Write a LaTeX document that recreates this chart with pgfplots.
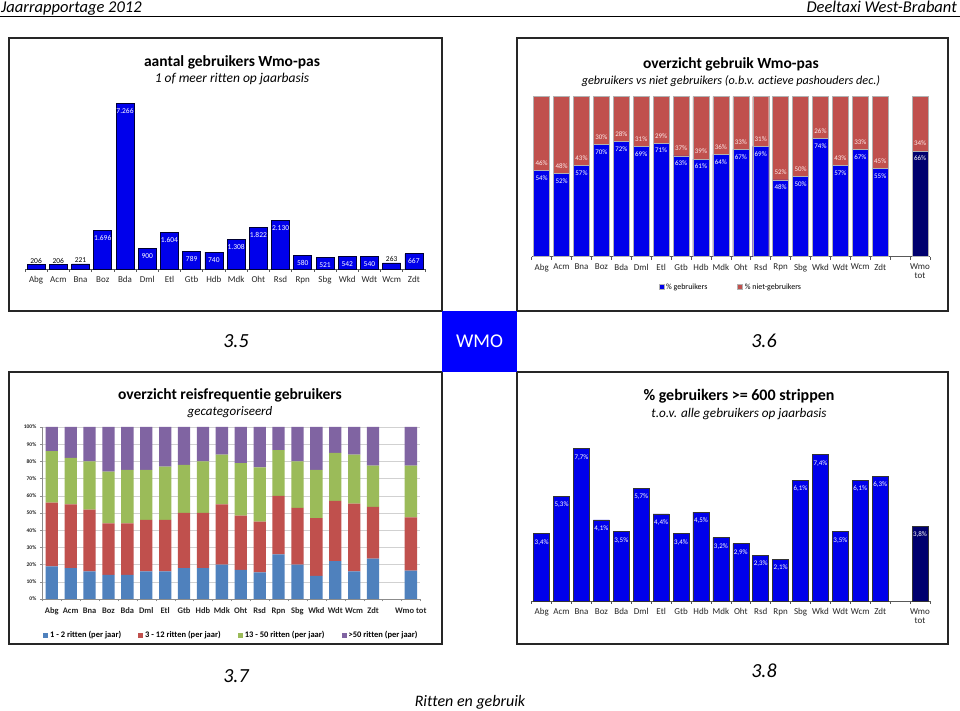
\documentclass[border=0pt]{standalone}
\usepackage{pgfplots}
\pgfplotsset{compat=1.18}
\usepackage{pgfplotstable}
\usepackage{fontspec}
\setmainfont{Carlito}[Ligatures=NoCommon]

\definecolor{barblue}{RGB}{0,0,235}
\definecolor{barnavy}{RGB}{0,0,110}
\definecolor{xlred}{RGB}{192,80,77}
\definecolor{xlblue}{RGB}{79,129,189}
\definecolor{xlgreen}{RGB}{155,187,89}
\definecolor{xlpurple}{RGB}{128,100,162}
\definecolor{wmoblue}{RGB}{0,0,255}

\newcommand\fs[1]{\fontsize{#1}{#1}\selectfont}

\pgfplotstableread{
x v
0 206
1 206
2 221
3 1696
4 7266
5 900
6 1604
7 789
8 740
9 1308
10 1822
11 2130
12 580
13 521
14 542
15 540
16 263
17 667
}\tA

\pgfplotstableread{
x g n
0 54 46
1 52 48
2 57 43
3 70 30
4 72 28
5 69 31
6 71 29
7 63 37
8 61 39
9 64 36
10 67 33
11 69 31
12 48 52
13 50 50
14 74 26
15 57 43
16 67 33
17 55 45
19 66 34
}\tB

\pgfplotstableread{
x a b c d
0 19 37 30 14
1 18 37 27 18
2 16 36 28 20
3 14 30 30 26
4 14 30 31 25
5 16 30 29 25
6 16 30 31 23
7 18 32 28 22
8 18 32 30 20
9 20 35 29 16
10 17 31.5 30.5 21
11 15.5 29.5 31.5 23.5
12 26 34 26.5 13.5
13 20 33 27 20
14 13.5 33.5 28 25
15 22 35 28 15
16 16 39.5 28.5 16
17 23.5 30 24 22.5
19 16.5 31 30 22.5
}\tC

\pgfplotstableread{
x v
0 3.4
1 5.3
2 7.7
3 4.1
4 3.5
5 5.7
6 4.4
7 3.4
8 4.5
9 3.2
10 2.9
11 2.3
12 2.1
13 6.1
14 7.4
15 3.5
16 6.1
17 6.3
19 3.8
}\tD

\pgfplotsset{
  /pgf/number format/assume math mode=true,
  catx/.style={
    scale only axis, clip=false, ymin=0,
    axis x line*=bottom, axis y line=none,
    axis line style={-, draw=black!65, line width=0.7pt},
    tick align=outside, major tick length=0pt, minor tick length=3pt,
    minor tick style={draw=black!65, line width=0.7pt},
    xticklabel style={font=\fs{9}, align=center, text=black!85, yshift=-4pt},
  },
}

\begin{document}
\begin{tikzpicture}[x=1pt,y=1pt]
\path[use as bounding box, fill=white] (0,0) rectangle (960,711);
% header
\draw[line width=1.6pt] (0,694.5) -- (960,694.5);
\node[anchor=base west, inner sep=0pt, font=\fs{16.5}\itshape] at (1,698.5) {Jaarrapportage 2012};
\node[anchor=base east, inner sep=0pt, font=\fs{16.5}\itshape] at (957,698.5) {Deeltaxi West-Brabant};
% boxes
\draw[line width=1.2pt, black!85] (9,673) rectangle (442,400);
\draw[line width=1.2pt, black!85] (517,673) rectangle (948,400);
\draw[line width=1.2pt, black!85] (9,339) rectangle (442,67);
\draw[line width=1.2pt, black!85] (517,339) rectangle (948,67);
\fill[wmoblue] (442,400) rectangle (517,339);
\node[font=\fs{19.5}, text=white] at (479.5,369.5) {WMO};
\node[font=\fs{20}\itshape] at (236,370) {3.5};
\node[font=\fs{20}\itshape] at (764,370) {3.6};
\node[font=\fs{20}\itshape] at (236,35) {3.7};
\node[font=\fs{20}\itshape] at (764,40) {3.8};
\node[font=\fs{16}\itshape] at (470,8.5) {Ritten en gebruik};
% titles
\node[font=\fs{15.5}\bfseries] at (232,649) {aantal gebruikers Wmo-pas};
\node[font=\fs{13.5}\itshape] at (232,632.5) {1 of meer ritten op jaarbasis};
\node[font=\fs{15.5}\bfseries] at (731,647) {overzicht gebruik Wmo-pas};
\node[font=\fs{12.2}\itshape] at (731,629.5) {gebruikers vs niet gebruikers (o.b.v. actieve pashouders dec.)};
\node[font=\fs{15.5}\bfseries] at (230,316) {overzicht reisfrequentie gebruikers};
\node[font=\fs{13}\itshape] at (230,298.5) {gecategoriseerd};
\node[font=\fs{16}\bfseries] at (739,315) {\% gebruikers >= 600 strippen};
\node[font=\fs{13.2}\itshape] at (739,297) {t.o.v. alle gebruikers op jaarbasis};

% chart 3.5
\begin{axis}[catx, at={(25pt,442pt)}, anchor=south west, width=400pt, height=182.4pt,
  xmin=-0.5, xmax=17.5, ymax=8000, ybar, bar width=18pt, bar shift=0pt,
  xtick={0,...,17}, xticklabels={Abg,Acm,Bna,Boz,Bda,Dml,Etl,Gtb,Hdb,Mdk,Oht,Rsd,Rpn,Sbg,Wkd,Wdt,Wcm,Zdt},
  minor xtick={-0.5,0.5,...,17.5}]
\addplot[bar shift=0pt, fill=barblue, draw=black!80!blue, line width=0.6pt] table[x=x,y=v]{\tA};
\addplot[bar shift=0pt, draw=none, fill=none, restrict y to domain=500:10000,
  nodes near coords={\pgfmathprintnumber[1000 sep={.}]{\pgfplotspointmeta}},
  nodes near coords align={below},
  every node near coord/.append style={font=\fs{7.5}, text=white, yshift=-1.5pt}] table[x=x,y=v]{\tA};
\addplot[bar shift=0pt, draw=none, fill=none, restrict y to domain=0:500,
  nodes near coords={\pgfmathprintnumber[1000 sep={.}]{\pgfplotspointmeta}},
  every node near coord/.append style={font=\fs{7.5}, text=black, inner sep=1pt}] table[x=x,y=v]{\tA};
\end{axis}

% chart 3.6
\begin{axis}[catx, at={(531.7pt,454.3pt)}, anchor=south west, width=398.3pt, height=160pt,
  xmin=-0.5, xmax=19.5, ymax=100, ybar, bar width=16pt, bar shift=0pt,
  xtick={0,...,17,19}, xticklabels={Abg,Acm,Bna,Boz,Bda,Dml,Etl,Gtb,Hdb,Mdk,Oht,Rsd,Rpn,Sbg,Wkd,Wdt,Wcm,Zdt,{Wmo\\tot}},
  minor xtick={-0.5,0.5,...,19.5},
  legend style={at={(0.5,-0.19)}, anchor=center, draw=none, fill=none, legend columns=2, font=\fs{8},
    /tikz/every even column/.append style={column sep=28pt}},
  legend image code/.code={\fill[#1] (0pt,-2.5pt) rectangle (5pt,2.5pt);},
  reverse legend]
\addplot[bar shift=0pt, fill=xlred, draw=black!30] table[x=x, y expr=\thisrow{g}+\thisrow{n}]{\tB};
\addlegendentry{\% niet-gebruikers}
\addplot[bar shift=0pt, fill=barblue, draw=black!30, restrict x to domain=0:17] table[x=x,y=g]{\tB};
\addlegendentry{\% gebruikers}
\addplot[forget plot, bar shift=0pt, fill=barnavy, draw=black!30, restrict x to domain=18:20] table[x=x,y=g]{\tB};
\addplot[forget plot, bar shift=0pt, draw=none, fill=none,
  nodes near coords={\pgfmathprintnumber[fixed,precision=0]{\pgfplotspointmeta}\%},
  nodes near coords align={below},
  every node near coord/.append style={font=\fs{7}, text=white, yshift=-1.5pt}] table[x=x,y=g]{\tB};
\addplot[forget plot, bar shift=0pt, draw=none, fill=none, point meta=explicit,
  nodes near coords={\pgfmathprintnumber[fixed,precision=0]{\pgfplotspointmeta}\%},
  nodes near coords align={above},
  every node near coord/.append style={font=\fs{7}, text=white!92!red, yshift=1.5pt}] table[x=x,y=g,meta=n]{\tB};
\end{axis}

% chart 3.7
\begin{axis}[scale only axis, clip=false, at={(42.3pt,112pt)}, anchor=south west, width=378pt, height=172pt,
  xmin=-0.5, xmax=19.5, ymin=0, ymax=100, ybar stacked, bar width=12.3pt,
  axis x line*=bottom, axis y line*=left, axis line style={-, draw=black!45, line width=0.6pt},
  xtick={0,...,17,19}, xticklabels={Abg,Acm,Bna,Boz,Bda,Dml,Etl,Gtb,Hdb,Mdk,Oht,Rsd,Rpn,Sbg,Wkd,Wdt,Wcm,Zdt,Wmo tot},
  minor xtick={-0.5,0.5,...,19.5},
  major x tick style={draw=none},
  ytick={0,10,...,100}, yticklabel={\pgfmathprintnumber{\tick}\%},
  ymajorgrids, grid style={draw=black!18, line width=0.5pt},
  tick align=outside, major tick length=2.5pt, minor tick length=2.5pt,
  tick style={draw=black!45},
  xticklabel style={font=\fs{8.5}\bfseries, text=black!85, yshift=-3pt},
  yticklabel style={font=\fs{5.5}\bfseries, text=black!85},
  legend style={at={(0.5,-0.21)}, anchor=center, draw=none, fill=none, legend columns=4, font=\fs{8.5}\bfseries,
    /tikz/every even column/.append style={column sep=15pt}},
  legend image code/.code={\fill[#1] (0pt,-2.5pt) rectangle (5pt,2.5pt);}]
\addplot[fill=xlblue, draw=none] table[x=x,y=a]{\tC};
\addlegendentry{1 - 2 ritten (per jaar)}
\addplot[fill=xlred, draw=none] table[x=x,y=b]{\tC};
\addlegendentry{3 - 12 ritten (per jaar)}
\addplot[fill=xlgreen, draw=none] table[x=x,y=c]{\tC};
\addlegendentry{13 - 50 ritten (per jaar)}
\addplot[fill=xlpurple, draw=none] table[x=x,y=d]{\tC};
\addlegendentry{>50 ritten (per jaar)}
\end{axis}

% chart 3.8
\begin{axis}[catx, at={(531.7pt,110pt)}, anchor=south west, width=398.3pt, height=158.2pt,
  xmin=-0.5, xmax=19.5, ymax=8, ybar, bar width=16pt, bar shift=0pt,
  xtick={0,...,17,19}, xticklabels={Abg,Acm,Bna,Boz,Bda,Dml,Etl,Gtb,Hdb,Mdk,Oht,Rsd,Rpn,Sbg,Wkd,Wdt,Wcm,Zdt,{Wmo\\tot}},
  minor xtick={-0.5,0.5,...,19.5},
  nodes near coords={\pgfmathprintnumber[fixed,precision=1,fixed zerofill,use comma]{\pgfplotspointmeta}\%},
  nodes near coords align={below},
  every node near coord/.append style={font=\fs{7}, text=white, yshift=-2pt}]
\addplot[bar shift=0pt, fill=barblue, draw=black!80, line width=0.6pt, restrict x to domain=0:17] table[x=x,y=v]{\tD};
\addplot[bar shift=0pt, fill=barnavy, draw=black!80, line width=0.6pt, restrict x to domain=18:20] table[x=x,y=v]{\tD};
\end{axis}
\end{tikzpicture}
\end{document}
